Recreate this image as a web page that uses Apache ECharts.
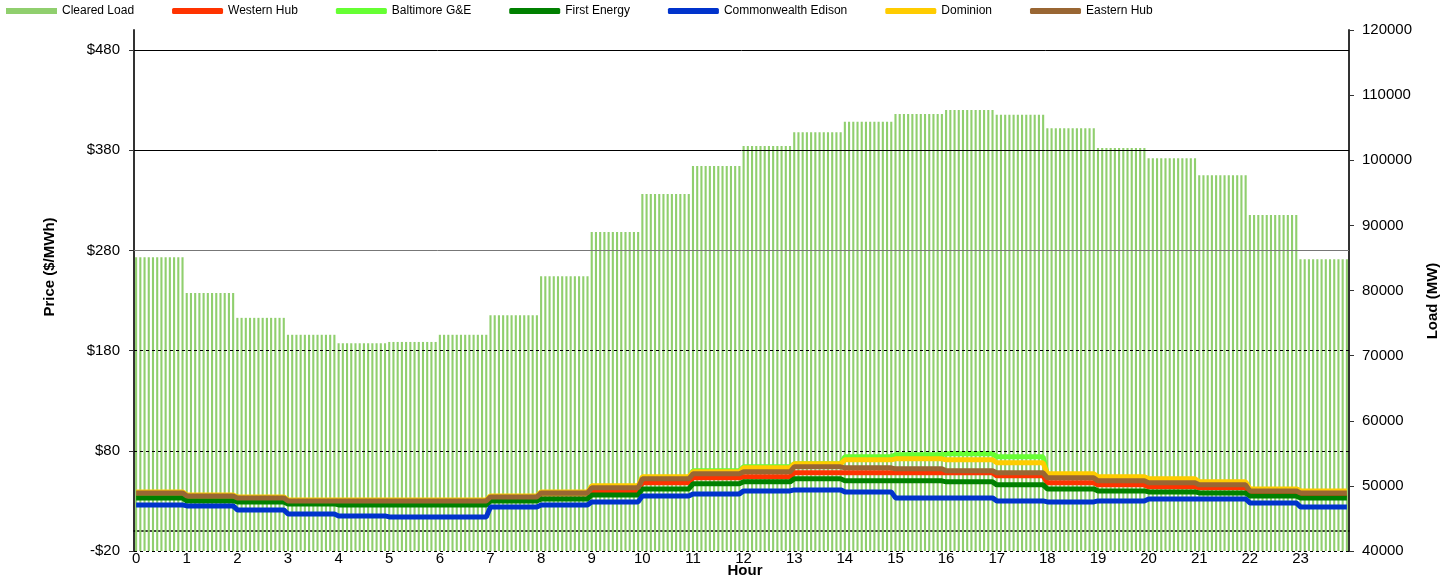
<!DOCTYPE html>
<html>
<head>
<meta charset="utf-8">
<title>Cleared Load and Hub Prices</title>
<script src="https://cdn.jsdelivr.net/npm/echarts@6/dist/echarts.min.js"></script>
<style>
  html, body { margin: 0; padding: 0; background: #fff; }
  #chart { width: 1453px; height: 579px; }
</style>
</head>
<body>
<div id="chart"></div>
<script>
// hour labels (x axis)
const hours = ['0','1','2','3','4','5','6','7','8','9','10','11','12','13','14','15','16','17','18','19','20','21','22','23'];
// cleared load per hour (MW)
const loadMW = [85100, 79600, 75800, 73200, 71900, 72100, 73200, 76200, 82200, 89000, 94800, 99100,
                102200, 104300, 105900, 107100, 107700, 107000, 104900, 101900, 100300, 97700, 91600, 84800];
// hub prices per hour ($/MWh)
const westernHub = [37, 34, 32, 29, 29, 29, 29, 33, 37, 40, 48, 53, 54, 58, 58, 58, 58, 55, 48, 46, 44, 43, 38, 36];
const baltimore  = [38, 35, 33, 30, 30, 30, 30, 34, 38, 44, 53, 60, 64, 67, 74, 76, 77, 74, 56, 53, 51, 48, 41, 39];
const firstEnergy = [33, 30, 29, 27, 26, 26, 26, 30, 32, 36, 42, 47, 49, 52, 50, 50, 49, 46, 42, 40, 39, 38, 35, 33];
const comEd      = [26, 25, 21, 17, 15, 14, 14, 24, 26, 29, 35, 37, 40, 41, 39, 33, 33, 30, 29, 30, 32, 32, 28, 24];
const dominion   = [39, 36, 34, 31, 31, 31, 31, 35, 39, 45, 54, 59, 63, 67, 71, 72, 71, 68, 57, 54, 52, 49, 42, 40];
const easternHub = [38, 35, 33, 30, 30, 30, 30, 34, 38, 43, 52, 57, 59, 64, 63, 62, 60, 58, 53, 50, 48, 46, 40, 38];
// axis ticks
const priceTicks = [-20, 80, 180, 280, 380, 480];

const slotsPerHour = 12; // 5 minute intervals
const slots = [];
hours.forEach(h => { for (let k = 0; k < slotsPerHour; k++) slots.push(h); });
const perSlot = arr => arr.flatMap(v => Array(slotsPerHour).fill(v));

const FONT = 'Liberation Sans, Arial, sans-serif';

const priceSeries = [
  ['Western Hub', westernHub, '#ff3300'],
  ['Baltimore G&E', baltimore, '#66ff33'],
  ['First Energy', firstEnergy, '#008000'],
  ['Commonwealth Edison', comEd, '#0033cc'],
  ['Dominion', dominion, '#ffcc00'],
  ['Eastern Hub', easternHub, '#996633']
];

// gridline look: top two solid black, middle grey, lower ones dashed
function gridStyle(v) {
  if (v >= 380) return { color: '#000', width: 1, type: 'solid' };
  if (v >= 280) return { color: '#777', width: 1, type: 'solid' };
  return { color: '#000', width: 1, type: [3, 3] };
}

const chart = echarts.init(document.getElementById('chart'));

const option = {
  animation: false,
  backgroundColor: '#fff',
  textStyle: { fontFamily: FONT, color: '#000' },
  legend: {
    left: 1,
    top: 0,
    itemWidth: 51,
    itemHeight: 6,
    itemGap: 38,
    textStyle: { fontSize: 12, color: '#000', fontFamily: FONT },
    data: [{ name: 'Cleared Load', icon: 'rect' }].concat(
      priceSeries.map(s => ({ name: s[0], icon: 'roundRect' })))
  },
  grid: [
    { left: 134, right: 104, top: 30, bottom: 28, outerBoundsMode: 'none' },
    { left: 134, right: 104, top: 50, bottom: 28, outerBoundsMode: 'none' }
  ],
  xAxis: [
    { type: 'category', gridIndex: 0, data: slots, show: false },
    {
      type: 'category', gridIndex: 1, data: slots, boundaryGap: true,
      axisLine: { onZero: true, lineStyle: { color: '#000', width: 1.5 } },
      axisTick: { interval: 0, length: 5, lineStyle: { color: '#333' } },
      axisLabel: { interval: slotsPerHour - 1, margin: 0, fontSize: 15, color: '#000', fontFamily: FONT },
      splitLine: { show: false }
    }
  ],
  yAxis: [
    {
      type: 'value', gridIndex: 0, position: 'right',
      min: 40000, max: 120000, interval: 10000,
      axisLine: { show: true, lineStyle: { color: '#333', width: 2 } },
      axisTick: { show: true, length: 5, lineStyle: { color: '#333' } },
      axisLabel: { margin: 13, fontSize: 15, color: '#000', fontFamily: FONT, formatter: v => String(v) },
      splitLine: { show: false }
    },
    {
      // only used for the full-height left border
      type: 'value', gridIndex: 0, position: 'left', min: 0, max: 1,
      axisLine: { show: true, lineStyle: { color: '#333', width: 2 } },
      axisTick: { show: false }, axisLabel: { show: false }, splitLine: { show: false }
    },
    {
      type: 'value', gridIndex: 1, position: 'left',
      min: -20, max: 480,
      axisLine: { show: false },
      axisTick: { show: true, length: 5, customValues: priceTicks, lineStyle: { color: '#333' } },
      axisLabel: {
        customValues: priceTicks, margin: 14, fontSize: 15, color: '#000', fontFamily: FONT,
        formatter: v => (v < 0 ? '-$' + (-v) : '$' + v)
      },
      splitLine: { show: false }
    }
  ],
  graphic: [
    { type: 'text', x: 50, y: 267, rotation: Math.PI / 2,
      style: { text: 'Price ($/MWh)', font: 'bold 15px ' + FONT, fill: '#000', align: 'center', verticalAlign: 'middle' } },
    { type: 'text', x: 1433, y: 301, rotation: Math.PI / 2,
      style: { text: 'Load (MW)', font: 'bold 15px ' + FONT, fill: '#000', align: 'center', verticalAlign: 'middle' } },
    { type: 'text', x: 745, y: 571,
      style: { text: 'Hour', font: 'bold 15px ' + FONT, fill: '#000', align: 'center', verticalAlign: 'middle' } }
  ],
  series: [
    {
      // gridlines of the price axis
      type: 'line', xAxisIndex: 1, yAxisIndex: 2, data: [], z: 1, silent: true,
      markLine: {
        silent: true, symbol: ['none', 'none'], label: { show: false },
        data: priceTicks.map(v => ({ yAxis: v, lineStyle: gridStyle(v) }))
      }
    },
    {
      name: 'Cleared Load', type: 'bar', xAxisIndex: 0, yAxisIndex: 0,
      data: perSlot(loadMW), barWidth: '50%', z: 2,
      itemStyle: { color: '#90cf6e' }
    }
  ].concat(priceSeries.map(s => ({
    name: s[0], type: 'line', xAxisIndex: 1, yAxisIndex: 2,
    data: perSlot(s[1]), symbol: 'none', z: 3,
    lineStyle: { width: 5, color: s[2] },
    itemStyle: { color: s[2] }
  })))
};

chart.setOption(option);
</script>
</body>
</html>
